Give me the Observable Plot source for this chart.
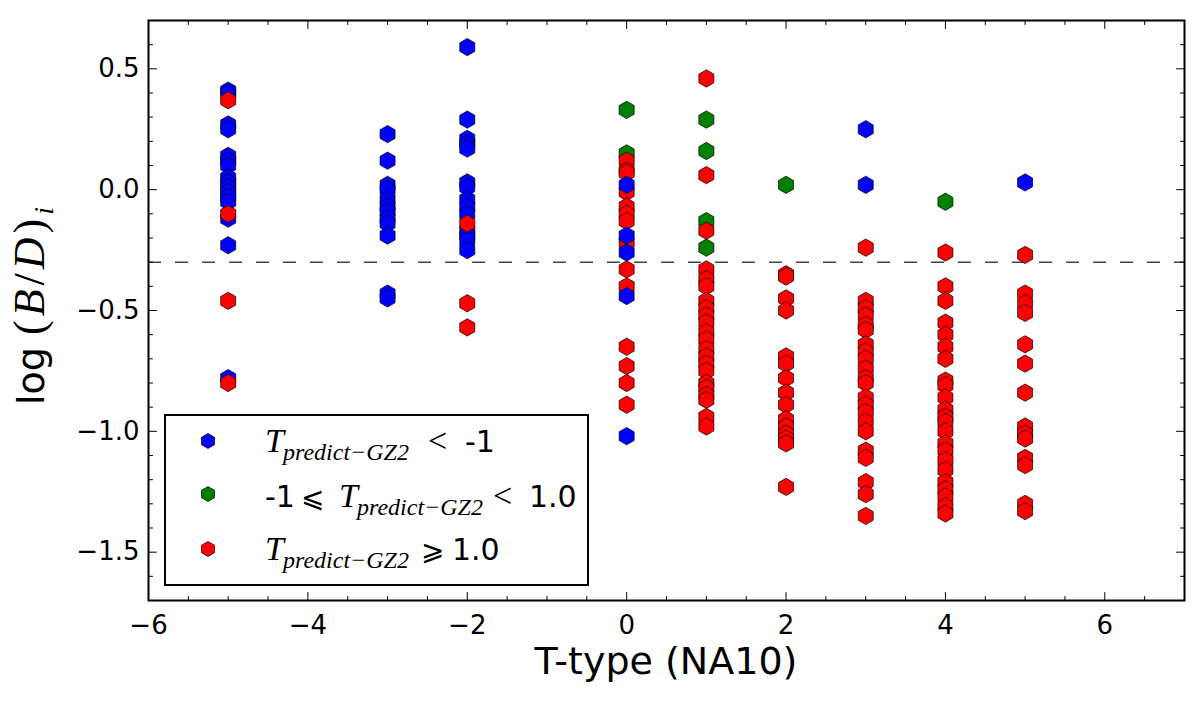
<!DOCTYPE html>
<html>
<head>
<meta charset="utf-8">
<script src="https://cdn.jsdelivr.net/npm/d3@7"></script>
<script src="https://cdn.jsdelivr.net/npm/@observablehq/plot@0.6"></script>
<style>
  body { margin: 0; background: #fff; }
  #chart { width: 1200px; height: 703px; }
</style>
</head>
<body>
<div id="chart"></div>
<script>
// ---- data ----
const blueTypes = [-5, -3, -2, 0, 3, 5];
const blueValues = [
  [0.41, 0.40, 0.27, 0.25, 0.14, 0.12, 0.10, 0.05, 0.03, 0.01, -0.01, -0.03, -0.05, -0.12, -0.23, -0.78],
  [0.23, 0.12, 0.02, 0.00, -0.04, -0.07, -0.09, -0.12, -0.14, -0.19, -0.43, -0.45],
  [0.59, 0.29, 0.21, 0.19, 0.17, 0.03, 0.01, -0.04, -0.07, -0.10, -0.17, -0.19, -0.21, -0.25],
  [0.02, -0.19, -0.26, -0.44, -1.02],
  [0.25, 0.02],
  [0.03]
];
const greenTypes = [0, 1, 2, 4];
const greenValues = [
  [0.33, 0.15],
  [0.29, 0.16, -0.13, -0.24],
  [0.02],
  [-0.05]
];
const redTypes = [-5, -2, 0, 1, 2, 3, 4, 5];
const redValues = [
  [0.37, -0.10, -0.46, -0.80],
  [-0.14, -0.47, -0.57],
  [0.12, 0.08, 0.07, -0.01, -0.07, -0.10, -0.13, -0.22, -0.33, -0.40, -0.65, -0.73, -0.80, -0.89],
  [0.46, 0.06, -0.17, -0.33, -0.37, -0.40, -0.46, -0.49, -0.52, -0.55, -0.59, -0.62, -0.66, -0.69, -0.72, -0.75, -0.80, -0.82, -0.85, -0.87, -0.94, -0.98],
  [-0.35, -0.36, -0.45, -0.50, -0.69, -0.72, -0.78, -0.84, -0.89, -0.95, -0.98, -1.01, -1.03, -1.05, -1.23],
  [-0.24, -0.46, -0.49, -0.52, -0.56, -0.58, -0.64, -0.67, -0.70, -0.74, -0.78, -0.80, -0.86, -0.89, -0.92, -0.96, -1.00, -1.08, -1.11, -1.21, -1.26, -1.35],
  [-0.26, -0.40, -0.46, -0.55, -0.60, -0.65, -0.70, -0.79, -0.81, -0.86, -0.91, -0.94, -0.96, -1.00, -1.05, -1.08, -1.12, -1.16, -1.21, -1.24, -1.27, -1.31, -1.34],
  [-0.27, -0.43, -0.47, -0.51, -0.64, -0.72, -0.84, -0.98, -1.01, -1.03, -1.11, -1.14, -1.30, -1.33]
];
const classNames = ["blue", "green", "red"];
const classColors = ["#0000ff", "#008000", "#ff0000"];
const threshold = -0.3;
const xDomain = [-6, 7];
const yDomain = [-1.7, 0.7];
const xMajorTicks = [-6, -4, -2, 0, 2, 4, 6];
const xMinorTicks = [-5.5, -5, -4.5, -3.5, -3, -2.5, -1.5, -1, -0.5, 0.5, 1, 1.5, 2.5, 3, 3.5, 4.5, 5, 5.5, 6.5, 7];
const yMajorTicks = [0.5, 0.0, -0.5, -1.0, -1.5];
const yMinorTicks = [0.7, 0.6, 0.4, 0.3, 0.2, 0.1, -0.1, -0.2, -0.3, -0.4, -0.6, -0.7, -0.8, -0.9, -1.1, -1.2, -1.3, -1.4, -1.6, -1.7];
const xLabel = "T-type (NA10)";

// ---- build point table ----
const flat = (types, values, cls) => types.flatMap((t, i) => values[i].map(v => ({t, v, cls})));
const layer = d => d.cls === "green" ? 0 : d.cls === "blue" ? (d.t === 0 ? 2 : 1) : (d.t === 0 ? 1 : 2);
const points = [
  ...flat(greenTypes, greenValues, "green"),
  ...flat(blueTypes, blueValues, "blue"),
  ...flat(redTypes, redValues, "red")
].map((d, i) => ({...d, i})).sort((a, b) => layer(a) - layer(b) || a.i - b.i);

const tickShape = { draw(ctx, l) { ctx.moveTo(0, 0); ctx.lineTo(0, -l); } };
const tickMarks = (ticks, axis, len) => {
  const ch = axis === "x" ? {x: d => d} : {y: d => d};
  const sides = axis === "x" ? [["bottom", 0], ["top", 180]] : [["left", 90], ["right", -90]];
  return sides.map(([frameAnchor, rotate]) =>
    Plot.vector(ticks, {...ch, frameAnchor, rotate, length: len, anchor: "start", shape: tickShape, stroke: "black", strokeWidth: 1}));
};

const svg = Plot.plot({
  width: 1200,
  height: 703,
  marginTop: 20,
  marginBottom: 103,
  marginLeft: 148,
  marginRight: 16,
  x: {domain: xDomain},
  y: {domain: yDomain},
  color: {domain: classNames, range: classColors},
  style: {fontFamily: "DejaVu Sans", background: "white", color: "black"},
  marks: [
    Plot.ruleY([threshold], {stroke: "#444", strokeWidth: 1.5, strokeDasharray: "13,14"}),
    Plot.dot(points, {x: "t", y: "v", fill: "cls", symbol: "hexagon", r: 7.5, stroke: "black", strokeWidth: 0.7}),
    ...tickMarks(xMajorTicks, "x", 8),
    ...tickMarks(xMinorTicks, "x", 4),
    ...tickMarks(yMajorTicks, "y", 8),
    ...tickMarks(yMinorTicks, "y", 4),
    Plot.frame({stroke: "black", strokeWidth: 2}),
    Plot.axisX({ticks: xMajorTicks, tickSize: 0, tickPadding: 15, tickFormat: d3.format("d"), fontSize: 26, label: null}),
    Plot.axisY({ticks: yMajorTicks, tickSize: 0, tickPadding: 9, tickFormat: d3.format(".1f"), fontSize: 26, label: null})
  ]
});
document.getElementById("chart").appendChild(svg);

// ---- axis titles ----
const s = d3.select(svg);
s.append("text")
  .attr("x", 666).attr("y", 674)
  .attr("text-anchor", "middle")
  .attr("font-family", "DejaVu Sans").attr("font-size", 38).attr("fill", "black")
  .text(xLabel);

const mathSerif = "Liberation Serif";
const yl = s.append("text")
  .attr("transform", "translate(44,306) rotate(-90)")
  .attr("text-anchor", "middle")
  .attr("fill", "black");
yl.append("tspan").attr("font-family", "DejaVu Sans").attr("font-size", 38).text("log ");
[["(", "normal"], ["B", "italic"], ["/", "normal"], ["D", "italic"], [")", "normal"]].forEach(([ch, st]) =>
  yl.append("tspan").attr("font-family", mathSerif).attr("font-style", st).attr("font-size", 44)
    .attr("letter-spacing", 4).text(ch));
yl.append("tspan").attr("font-family", mathSerif).attr("font-style", "italic").attr("font-size", 28).attr("dy", 9).text("i");

// ---- legend ----
const lg = s.append("g").attr("text-anchor", "start");
lg.append("rect").attr("x", 165).attr("y", 415).attr("width", 423).attr("height", 170)
  .attr("fill", "white").attr("stroke", "black").attr("stroke-width", 2);
const hex = r => { const ry = r * 2 / Math.sqrt(3), hy = ry / 2;
  return `M0,${ry}L${r},${hy}L${r},${-hy}L0,${-ry}L${-r},${-hy}L${-r},${hy}Z`; };
const legendRows = [
  {cls: 0, y: 441, base: 452, parts: [
    {x: 265, t: "T", k: "T"}, {x: 283, t: "predict\u2212GZ2", k: "sub"}, {x: 428, t: "<", k: "op"}, {x: 465, t: "-1", k: "num"}]},
  {cls: 1, y: 494, base: 507, parts: [
    {x: 265, t: "-1", k: "num"}, {x: 301, t: "\u2A7D", k: "opd"}, {x: 339, t: "T", k: "T"}, {x: 357, t: "predict\u2212GZ2", k: "sub"}, {x: 493, t: "<", k: "op"}, {x: 529, t: "1.0", k: "num"}]},
  {cls: 2, y: 549, base: 560, parts: [
    {x: 265, t: "T", k: "T"}, {x: 283, t: "predict\u2212GZ2", k: "sub"}, {x: 421, t: "\u2A7E", k: "opd"}, {x: 452, t: "1.0", k: "num"}]}
];
legendRows.forEach(row => {
  lg.append("path").attr("d", hex(6.5)).attr("transform", `translate(208,${row.y})`)
    .attr("fill", classColors[row.cls]).attr("stroke", "black").attr("stroke-width", 0.7);
  row.parts.forEach(p => {
    const t = lg.append("text").attr("x", p.x).attr("fill", "black").attr("text-anchor", "start").text(p.t);
    if (p.k === "T") t.attr("y", row.base).attr("font-family", mathSerif).attr("font-style", "italic").attr("font-size", 34);
    else if (p.k === "sub") t.attr("y", row.base + 8).attr("font-family", mathSerif).attr("font-style", "italic").attr("font-size", 24);
    else if (p.k === "op") t.attr("y", row.base).attr("font-family", mathSerif).attr("font-size", 34);
    else if (p.k === "opd") t.attr("y", row.base).attr("font-family", "DejaVu Sans").attr("font-size", 28);
    else t.attr("y", row.base).attr("font-family", "DejaVu Sans").attr("font-size", 30);
  });
});
</script>
</body>
</html>
